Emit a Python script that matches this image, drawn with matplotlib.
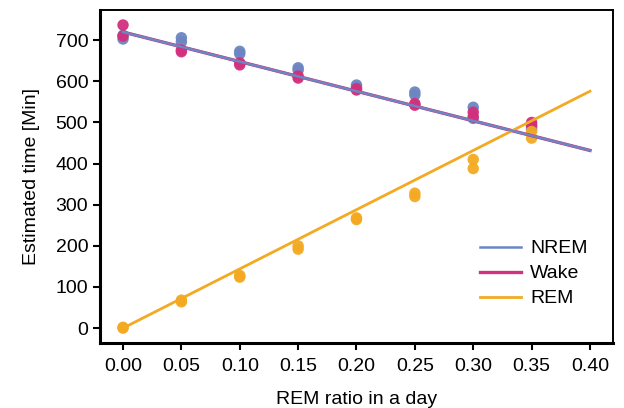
import numpy as np
import matplotlib.pyplot as plt

plt.rcParams['font.family'] = ['Liberation Sans', 'DejaVu Sans']

# REM ratio values (two samples per ratio)
rem_ratio = [0.00, 0.00, 0.05, 0.05, 0.10, 0.10, 0.15, 0.15,
             0.20, 0.20, 0.25, 0.25, 0.30, 0.30, 0.35, 0.35]

nrem_min = [703, 712, 706, 696, 673, 667, 633, 627,
            591, 586, 574, 567, 537, 510, 490, 484]
wake_min = [737, 710, 672, 676, 645, 640, 613, 608,
            582, 579, 546, 542, 525, 514, 500, 494]
rem_min = [0, 2, 64, 68, 124, 128, 192, 200,
           264, 268, 320, 328, 410, 388, 478, 462]

# expected lines: REM = day * r, NREM = Wake = day * (1 - r) / 2
day_minutes = 1440
line_x = [0.0, 0.40]

colors = {'NREM': '#6b86c1', 'Wake': '#d3307d', 'REM': '#f3aa22'}
series = {'NREM': nrem_min, 'Wake': wake_min, 'REM': rem_min}

fig = plt.figure(figsize=(6.24, 4.08), dpi=100)
ax = fig.add_axes([0.1603, 0.159, 0.822, 0.816])

x = np.array(rem_ratio)
for name in ['NREM', 'Wake', 'REM']:
    ax.scatter(x, series[name], s=68, color=colors[name], alpha=0.95,
               edgecolors='none', zorder=2)

lx = np.array(line_x)
expected = {'NREM': day_minutes * (1 - lx) / 2,
            'Wake': day_minutes * (1 - lx) / 2,
            'REM': day_minutes * lx}
for name, z, w in [('Wake', 3, 2.4), ('NREM', 4, 1.8), ('REM', 3, 2)]:
    ax.plot(lx, expected[name], color=colors[name], lw=w, label=name, zorder=z)

ax.set_xlim(-0.0197, 0.4197)
ax.set_ylim(-36.5, 773)
ticks = np.arange(0, 0.41, 0.05)
ax.set_xticks(ticks)
ax.set_xticklabels([f'{v:.2f}' for v in ticks])
ax.set_yticks(range(0, 701, 100))
ax.tick_params(labelsize=14, width=1.5, length=5)
ax.tick_params(axis='x', pad=6)

for s in ['left', 'bottom']:
    ax.spines[s].set_linewidth(2.2)
for s in ['top', 'right']:
    ax.spines[s].set_linewidth(1.4)

ax.set_xlabel('REM ratio in a day', fontsize=14, labelpad=11)
ax.set_ylabel('Estimated time [Min]', fontsize=14, labelpad=11)

handles, labels = ax.get_legend_handles_labels()
order = [labels.index(n) for n in ['NREM', 'Wake', 'REM']]
ax.legend([handles[i] for i in order], [labels[i] for i in order],
          loc='lower right', frameon=False, fontsize=14,
          handlelength=2.1, handletextpad=0.5, labelspacing=0.38,
          bbox_to_anchor=(0.985, 0.055))

fig.savefig('out.png', dpi=100)
